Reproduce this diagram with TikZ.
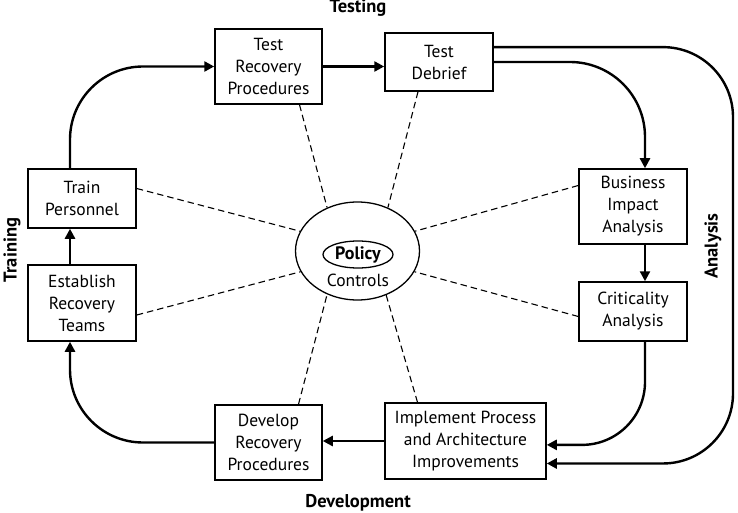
\documentclass[tikz,border=0pt]{standalone}
\usepackage{fontspec}
\setmainfont{PT Sans}
\usetikzlibrary{arrows.meta,shapes.geometric,calc}
\tikzset{
  box/.style={draw, line width=1.5pt, align=center, inner sep=0pt,
    font=\fontsize{17.5}{22}\selectfont},
  arr/.style={line width=2.4pt, -{Triangle[length=10pt,width=10pt]}},
  dsh/.style={line width=1.1pt, dash pattern=on 6.5pt off 4pt},
  lbl/.style={font=\fontsize{18.5}{20}\selectfont\bfseries},
}
\begin{document}
\begin{tikzpicture}[x=1pt,y=-1pt]
\useasboundingbox (0,0) rectangle (738,513);
% boxes
\node[box, minimum width=107pt, minimum height=75pt] (trp) at (268.5,66.5) {Test\\Recovery\\Procedures};
\node[box, minimum width=108pt, minimum height=58pt] (tdb) at (439,62) {Test\\Debrief};
\node[box, minimum width=108pt, minimum height=75pt] (bia) at (633,206.5) {Business\\Impact\\Analysis};
\node[box, minimum width=108pt, minimum height=59pt] (cra) at (633,311.5) {Criticality\\Analysis};
\node[box, minimum width=161pt, minimum height=76pt] (imp) at (465.5,441) {Implement Process\\and Architecture\\Improvements};
\node[box, minimum width=107pt, minimum height=75pt] (drp) at (268.5,442.5) {Develop\\Recovery\\Procedures};
\node[box, minimum width=108pt, minimum height=59pt] (tp) at (82,198.5) {Train\\Personnel};
\node[box, minimum width=108pt, minimum height=76pt] (ert) at (82,303) {Establish\\Recovery\\Teams};
% center
\node[draw, ellipse, line width=1.3pt, minimum width=124pt, minimum height=98pt, inner sep=0pt] (ctl) at (357.5,251) {};
\node[draw, ellipse, line width=1.3pt, minimum width=70pt, minimum height=27pt, inner sep=0pt,
  font=\fontsize{18}{20}\selectfont\bfseries] (pol) at (358,254.5) {Policy};
\node[font=\fontsize{17.5}{20}\selectfont, inner sep=0pt] (con) at (358,280) {Controls};
% labels
\node[lbl] (ltest) at (358,8) {Testing};
\node[lbl] (ldev) at (358,503) {Development};
\node[lbl, rotate=90] (ltrain) at (12,250) {Training};
\node[lbl, rotate=90] (lana) at (713,246) {Analysis};
% arrows
\coordinate (rc) at (733,250);
\draw[arr, rounded corners=73pt] ($(tp.north)+(-12,0)$) |- (trp.west);
\draw[arr] (trp.east) -- (trp.east -| tdb.west);
\draw[arr, rounded corners=75pt] (tdb.east) -| ($(bia.north)+(12,0)$);
\draw[arr, rounded corners=70pt] ($(tdb.north east)!0.25!(tdb.south east)$) -| (rc) |- ($(imp.north east)!0.79!(imp.south east)$);
\draw[arr] ($(bia.south)+(12,0)$) -- ($(cra.north)+(12,0)$);
\draw[arr, rounded corners=63pt] ($(cra.south)+(12,0)$) |- ($(imp.north east)!0.55!(imp.south east)$);
\draw[arr] (imp.west) -- (imp.west -| drp.east);
\draw[arr, rounded corners=73pt] (drp.west) -| ($(ert.south)+(-12,0)$);
\draw[arr] ($(ert.north)+(-12,0)$) -- ($(tp.south)+(-12,0)$);
% dashed
\draw[dsh] ($(trp.south)+(31,0)$) -- (ctl.125);
\draw[dsh] ($(tdb.south)+(-21,0)$) -- (ctl.55);
\draw[dsh] ($(tp.east)+(0,-10)$) -- (ctl.161);
\draw[dsh] ($(ert.east)+(0,12)$) -- (ctl.200);
\draw[dsh] ($(bia.west)+(0,-21)$) -- (ctl.19);
\draw[dsh] ($(cra.west)+(0,5)$) -- (ctl.340);
\draw[dsh] ($(drp.north)+(30,0)$) -- (ctl.235);
\draw[dsh] ($(imp.north)+(-48,0)$) -- (ctl.303);
\end{tikzpicture}
\end{document}
